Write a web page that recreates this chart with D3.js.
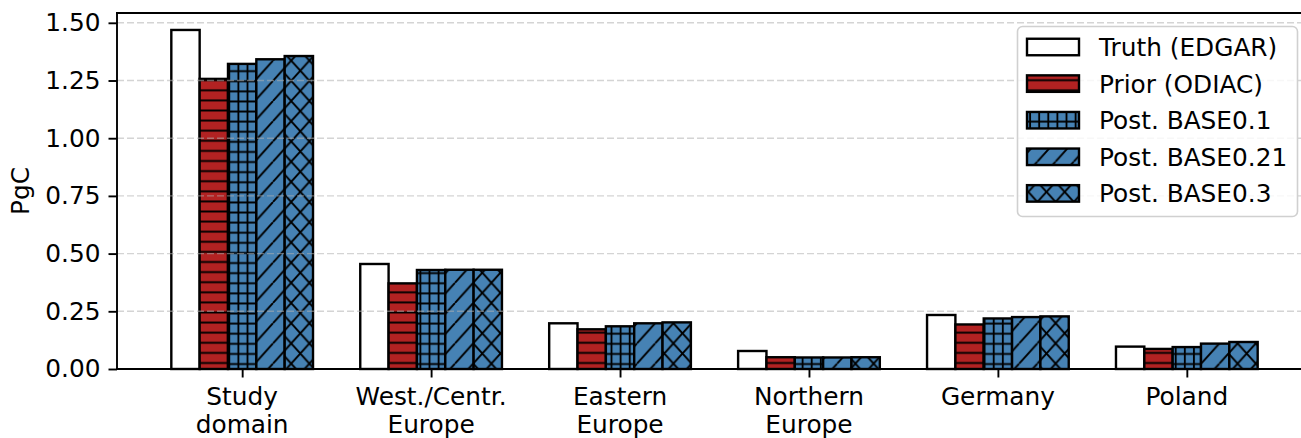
<!DOCTYPE html>
<html>
<head>
<meta charset="utf-8">
<script src="https://cdn.jsdelivr.net/npm/d3@7"></script>
<style>
  html, body { margin: 0; padding: 0; background: #fff; }
  svg { display: block; font-family: "DejaVu Sans", sans-serif; }
</style>
</head>
<body>
<svg id="chart" width="1301" height="438"></svg>
<script>
// Regional fossil CO2 emission totals (PgC)
const categories = ["Study\ndomain", "West./Centr.\nEurope", "Eastern\nEurope", "Northern\nEurope", "Germany", "Poland"];
const seriesNames = ["Truth (EDGAR)", "Prior (ODIAC)", "Post. BASE0.1", "Post. BASE0.21", "Post. BASE0.3"];
const truth   = [1.469, 0.455, 0.198, 0.078, 0.234, 0.097];
const prior   = [1.257, 0.371, 0.172, 0.051, 0.193, 0.087];
const base01  = [1.322, 0.429, 0.185, 0.050, 0.219, 0.095];
const base021 = [1.342, 0.430, 0.198, 0.050, 0.225, 0.110];
const base03  = [1.356, 0.430, 0.202, 0.051, 0.228, 0.117];
const yTicks  = [0, 0.25, 0.5, 0.75, 1.0, 1.25, 1.5];

const seriesValues = [truth, prior, base01, base021, base03];
const fills   = ["#ffffff", "#b22222", "#4682b4", "#4682b4", "#4682b4"];
const hatches = [null, "hatch-h", "hatch-plus", "hatch-diag", "hatch-x"];

const svg = d3.select("#chart");
const fontSize = 24.8;

const barW = 0.15;
const x = d3.scaleLinear().domain([-0.6625, 5.6625]).range([117, 1312]);
const y = d3.scaleLinear().domain([0, 1.5425]).range([369, 13]);

// hatch patterns
const defs = svg.append("defs");
const hx = 9.1, hy = 10.1, hw = 1.9;
{
  const p = defs.append("pattern").attr("id", "hatch-h").attr("patternUnits", "userSpaceOnUse")
    .attr("x", 0).attr("y", 4.45).attr("width", hx).attr("height", hy);
  p.append("line").attr("x1", -1).attr("x2", hx + 1).attr("y1", hy / 2).attr("y2", hy / 2)
    .attr("stroke", "#000").attr("stroke-width", hw);
}
{
  const p = defs.append("pattern").attr("id", "hatch-plus").attr("patternUnits", "userSpaceOnUse")
    .attr("x", 224.75).attr("y", 5.5).attr("width", hx).attr("height", hy);
  p.append("line").attr("x1", -1).attr("x2", hx + 1).attr("y1", hy / 2).attr("y2", hy / 2)
    .attr("stroke", "#000").attr("stroke-width", hw);
  p.append("line").attr("y1", -1).attr("y2", hy + 1).attr("x1", hx / 2).attr("x2", hx / 2)
    .attr("stroke", "#000").attr("stroke-width", hw);
}
const W = 2 * hx, H = 2 * hy;
{
  const p = defs.append("pattern").attr("id", "hatch-diag").attr("patternUnits", "userSpaceOnUse")
    .attr("x", 0).attr("y", 0).attr("width", W).attr("height", H);
  p.append("path")
    .attr("d", `M0,${H}L${W},0M${-W},${H}L0,0M${W},${H}L${2 * W},0`)
    .attr("stroke", "#000").attr("stroke-width", hw).attr("fill", "none");
}
{
  const p = defs.append("pattern").attr("id", "hatch-x").attr("patternUnits", "userSpaceOnUse")
    .attr("x", 0).attr("y", 0).attr("width", W).attr("height", H);
  p.append("path")
    .attr("d", `M0,${H}L${W},0M${-W},${H}L0,0M${W},${H}L${2 * W},0` +
               `M0,0L${W},${H}M${-W},0L0,${H}M${W},0L${2 * W},${H}`)
    .attr("stroke", "#000").attr("stroke-width", hw).attr("fill", "none");
}

// bars
const barsG = svg.append("g");
seriesValues.forEach((vals, s) => {
  const off = (s - 2) * barW;
  const g = barsG.append("g");
  vals.forEach((v, i) => {
    const x0 = x(i + off - barW / 2), x1 = x(i + off + barW / 2);
    g.append("rect").attr("x", x0).attr("y", y(v)).attr("width", x1 - x0).attr("height", y(0) - y(v))
      .attr("fill", fills[s]);
    if (hatches[s]) {
      g.append("rect").attr("x", x0).attr("y", y(v)).attr("width", x1 - x0).attr("height", y(0) - y(v))
        .attr("fill", `url(#${hatches[s]})`);
    }
    g.append("rect").attr("x", x0).attr("y", y(v)).attr("width", x1 - x0).attr("height", y(0) - y(v))
      .attr("fill", "none").attr("stroke", "#000").attr("stroke-width", 2.4);
  });
});

// horizontal grid (drawn above the bars)
svg.append("g").selectAll("line").data(yTicks.filter(t => t > 0)).join("line")
  .attr("x1", x.range()[0]).attr("x2", 1301)
  .attr("y1", d => y(d)).attr("y2", d => y(d))
  .attr("stroke", "#b0b0b0").attr("stroke-opacity", 0.55)
  .attr("stroke-width", 1.4).attr("stroke-dasharray", "7,3");

// axes
const yAxis = d3.axisLeft(y).tickValues(yTicks).tickFormat(d3.format(".2f")).tickSize(8.5).tickPadding(8);
const gy = svg.append("g").attr("transform", `translate(${x.range()[0]},0)`).call(yAxis);
gy.select(".domain").remove();
gy.selectAll(".tick line").attr("stroke", "#000").attr("stroke-width", 1.9);
gy.selectAll(".tick text").attr("font-size", fontSize).attr("font-family", "DejaVu Sans").attr("fill", "#000");

const xAxis = d3.axisBottom(x).tickValues(d3.range(categories.length)).tickFormat("").tickSize(8.5);
const gx = svg.append("g").attr("transform", `translate(0,${y(0)})`).call(xAxis);
gx.select(".domain").remove();
gx.selectAll(".tick line").attr("stroke", "#000").attr("stroke-width", 1.9);

// category labels (multi-line)
const labG = svg.append("g").attr("font-size", fontSize).attr("text-anchor", "middle").attr("fill", "#000");
categories.forEach((c, i) => {
  const t = labG.append("text").attr("x", x(i)).attr("y", 405);
  c.split("\n").forEach((line, k) => {
    t.append("tspan").attr("x", x(i)).attr("dy", k === 0 ? 0 : 27.5).text(line);
  });
});

// spines: left, bottom, top
const sp = svg.append("g").attr("stroke", "#000").attr("stroke-width", 1.9);
sp.append("line").attr("x1", x.range()[0]).attr("x2", x.range()[0]).attr("y1", y.range()[1]).attr("y2", y.range()[0]);
sp.append("line").attr("x1", x.range()[0] - 1).attr("x2", 1301).attr("y1", y(0)).attr("y2", y(0));
sp.append("line").attr("x1", x.range()[0] - 1).attr("x2", 1301).attr("y1", y.range()[1]).attr("y2", y.range()[1]);

// y-axis label
svg.append("text").attr("transform", "translate(29,191) rotate(-90)")
  .attr("text-anchor", "middle").attr("font-size", fontSize).text("PgC");

// legend
const leg = svg.append("g");
leg.append("rect").attr("x", 1017.5).attr("y", 26.5).attr("width", 280).attr("height", 190).attr("rx", 5)
  .attr("fill", "#fff").attr("fill-opacity", 0.8).attr("stroke", "#d0d0d0").attr("stroke-width", 1.6);
seriesNames.forEach((name, s) => {
  const cy = 47 + s * 36.6;
  const px = 1027, pw = 52, ph = 16.5;
  leg.append("rect").attr("x", px).attr("y", cy - ph / 2).attr("width", pw).attr("height", ph).attr("fill", fills[s]);
  if (hatches[s]) {
    leg.append("rect").attr("x", px).attr("y", cy - ph / 2).attr("width", pw).attr("height", ph)
      .attr("fill", `url(#${hatches[s]})`);
  }
  leg.append("rect").attr("x", px).attr("y", cy - ph / 2).attr("width", pw).attr("height", ph)
    .attr("fill", "none").attr("stroke", "#000").attr("stroke-width", 2.4);
  leg.append("text").attr("x", 1099).attr("y", cy).attr("dy", "0.36em")
    .attr("font-size", fontSize).attr("fill", "#000").text(name);
});
</script>
</body>
</html>
